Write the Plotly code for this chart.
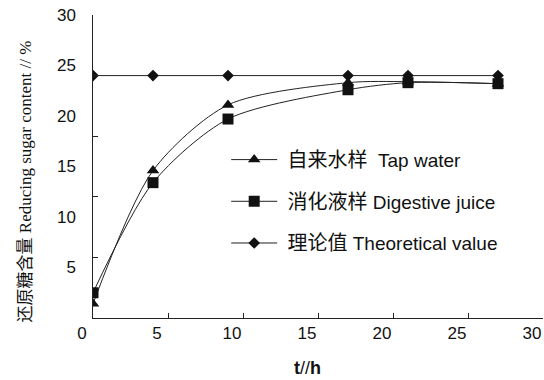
import plotly.graph_objects as go

# Data
t_hours = [0, 4, 9, 17, 21, 27]
tap_water = [1.4, 14.6, 21.1, 23.3, 23.4, 23.2]
digestive_juice = [2.5, 13.4, 19.7, 22.6, 23.3, 23.2]
theoretical = [24, 24, 24, 24, 24, 24]

cn_names = ["自来水样", "消化液样", "理论值"]
en_names = ["Tap water", "Digestive juice", "Theoretical value"]
x_tick_vals = [0, 5, 10, 15, 20, 25, 30]
y_tick_marks = [0, 6, 12, 18, 24, 30]
y_label_vals = [5, 10, 15, 20, 25, 30]

LINE = "#222222"
MARK = "#111111"
LEGEND_FONT = dict(family="Liberation Sans, Noto Sans CJK SC", size=19, color="#111111")


def legend_name(cn, en, gap):
    return ("\u00a0<span style='font-size:20px;color:#111111'>" + cn + "</span>"
            + "\u00a0" * gap + en)


fig = go.Figure()
fig.add_trace(go.Scatter(
    x=t_hours, y=tap_water, name=legend_name(cn_names[0], en_names[0], 2),
    mode="lines+markers",
    line=dict(color=LINE, width=1, shape="spline", smoothing=0.8),
    marker=dict(symbol="triangle-up", size=11, color=MARK),
    legendgroup="a"))
fig.add_trace(go.Scatter(
    x=t_hours, y=digestive_juice, name=legend_name(cn_names[1], en_names[1], 1),
    mode="lines+markers",
    line=dict(color=LINE, width=1, shape="spline", smoothing=0.8),
    marker=dict(symbol="square", size=11, color=MARK),
    legendgroup="b"))
fig.add_trace(go.Scatter(
    x=t_hours, y=theoretical, name=legend_name(cn_names[2], en_names[2], 1),
    mode="lines+markers",
    line=dict(color=LINE, width=1),
    marker=dict(symbol="diamond", size=9, color=MARK),
    legendgroup="c"))
# helper trace so the label-only axis is drawn
fig.add_trace(go.Scatter(x=[None], y=[None], yaxis="y2", showlegend=False, hoverinfo="skip"))

fig.update_layout(
    width=544, height=380,
    margin=dict(l=93, r=1, t=15, b=62),
    paper_bgcolor="white", plot_bgcolor="white",
    showlegend=True,
    legend=dict(x=0.296, y=0.585, xanchor="left", yanchor="top",
                font=LEGEND_FONT, bgcolor="rgba(0,0,0,0)",
                itemwidth=46, tracegroupgap=14, traceorder="grouped"),
    xaxis=dict(range=[0, 30], tickvals=x_tick_vals, ticks="inside", ticklen=5,
               tickcolor="#222", showline=True, linecolor="#222", linewidth=1,
               showgrid=False, zeroline=False, ticklabelshift=-11,
               tickfont=dict(family="Liberation Sans", size=17, color="#111")),
    yaxis=dict(range=[0, 30], tickvals=y_tick_marks, ticks="inside", ticklen=5,
               tickcolor="#222", showline=True, linecolor="#222", linewidth=1,
               showgrid=False, zeroline=False, showticklabels=False),
    yaxis2=dict(range=[0, 30], overlaying="y", side="left", anchor="x",
                tickvals=y_label_vals, ticks="", showline=False, showgrid=False,
                zeroline=False, ticklabelstandoff=16,
                tickfont=dict(family="Liberation Sans", size=17, color="#111")),
    annotations=[
        dict(text="还原糖含量 Reducing sugar content // %",
             xref="paper", yref="paper", x=-0.15, y=0.449,
             xanchor="center", yanchor="middle", textangle=-90, showarrow=False,
             font=dict(family="Liberation Serif, Noto Sans CJK SC", size=17, color="#111")),
        dict(text="<b>t</b>//<b>h</b>",
             xref="paper", yref="paper", x=(307 - 93) / 450, y=-(368 - 318) / 303,
             xanchor="center", yanchor="middle", showarrow=False,
             font=dict(family="Liberation Sans", size=18, color="#111")),
    ],
)

fig.write_html("out.html")
